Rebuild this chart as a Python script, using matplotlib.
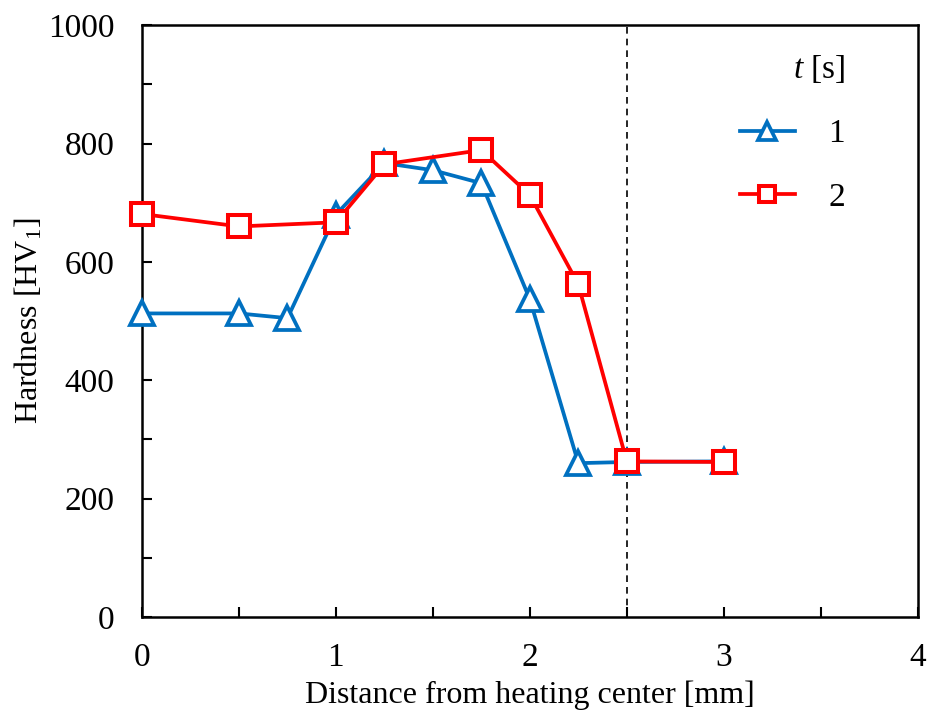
import matplotlib
matplotlib.use('Agg')
import matplotlib.pyplot as plt
from matplotlib.ticker import MultipleLocator

plt.rcParams['font.family'] = ['Liberation Serif', 'DejaVu Serif']
plt.rcParams['mathtext.fontset'] = 'custom'
plt.rcParams['mathtext.rm'] = 'Liberation Serif'
plt.rcParams['mathtext.it'] = 'Liberation Serif:italic'

# Data
distance1 = [0, 0.5, 0.75, 1, 1.25, 1.5, 1.75, 2, 2.25, 2.5, 3]
hardness1 = [513, 513, 505, 680, 767, 755, 733, 537, 260, 262, 263]
distance2 = [0, 0.5, 1, 1.25, 1.75, 2, 2.25, 2.5, 3]
hardness2 = [681, 660, 667, 765, 789, 713, 562, 263, 262]
labels = ['1', '2']
boundary = 2.5

blue = '#0070C0'
red = '#FF0000'

fig = plt.figure(figsize=(9.3, 7.2), dpi=100)
ax = fig.add_axes([0.1527, 0.143, 0.834, 0.822])

ax.plot(distance1, hardness1, color=blue, lw=2.7, marker='^', ms=17,
        mfc='white', mec=blue, mew=2.7, label=labels[0], clip_on=False, zorder=3)
ax.plot(distance2, hardness2, color=red, lw=2.7, marker='s', ms=16,
        mfc='white', mec=red, mew=2.9, label=labels[1], clip_on=False, zorder=4)
ax.axvline(boundary, color='black', ls=(0, (4, 3)), lw=1.2, zorder=2)

ax.set_xlim(0, 4)
ax.set_ylim(0, 1000)
ax.xaxis.set_major_locator(MultipleLocator(1))
ax.xaxis.set_minor_locator(MultipleLocator(0.5))
ax.yaxis.set_major_locator(MultipleLocator(200))
ax.yaxis.set_minor_locator(MultipleLocator(100))
ax.tick_params(which='both', direction='in', labelsize=24, width=1.5, length=7)
ax.tick_params(axis='x', pad=18)
ax.tick_params(axis='y', pad=20)
for s in ax.spines.values():
    s.set_linewidth(1.8)

ax.set_xlabel('Distance from heating center [mm]', fontsize=23, labelpad=6)
ax.set_ylabel('Hardness [HV$_1$]', fontsize=23, labelpad=2)

leg = ax.legend(title='$t$ [s]', loc='upper right', bbox_to_anchor=(0.945, 1.003),
                frameon=False, fontsize=24, title_fontsize=24, handlelength=1.65,
                handletextpad=1.0, labelspacing=1.0, markerscale=0.75)
leg._legend_box.align = 'right'

fig.savefig('out.png', dpi=100)
